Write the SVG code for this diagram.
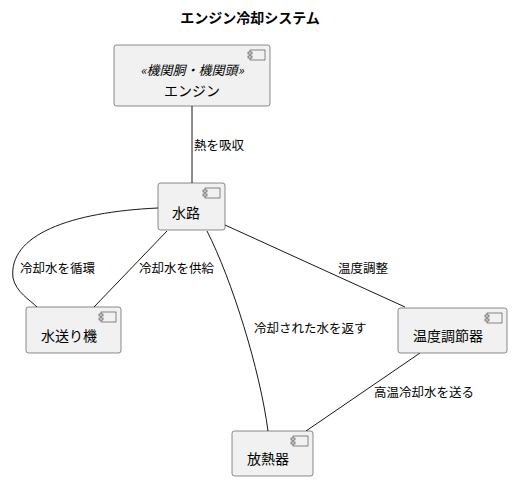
<svg xmlns="http://www.w3.org/2000/svg" width="512" height="481" viewBox="0 0 512 481">
<defs>
<style>
text{font-family:"Noto Sans CJK JP","Noto Sans",sans-serif;fill:#000}
.title{font-size:14px;font-weight:bold}
.node{font-size:14px}
.stereo{font-size:13px;font-style:italic}
.lbl{font-size:12.5px}
.box{fill:#F1F1F1;stroke:#181818;stroke-width:0.5}
.ic{fill:#F1F1F1;stroke:#181818;stroke-width:0.5}
.edge{fill:none;stroke:#181818;stroke-width:1}
</style>
<g id="icon">
<rect class="ic" x="0" y="0" width="15" height="10"/>
<rect class="ic" x="-2" y="2" width="4" height="2"/>
<rect class="ic" x="-2" y="6" width="4" height="2"/>
</g>
</defs>
<rect width="512" height="481" fill="#fff"/>
<text class="title" x="250" y="23" text-anchor="middle">エンジン冷却システム</text>
<g id="connectors">
<path class="edge" d="M192,106 L192,183"/>
<text class="lbl" x="194" y="150">熱を吸収</text>
<path class="edge" d="M158,208 C70,212 8,235 13,278 C16,292 30,300 37,307"/>
<text class="lbl" x="20" y="273">冷却水を循環</text>
<path class="edge" d="M167,231 L94,307"/>
<text class="lbl" x="139" y="273">冷却水を供給</text>
<path class="edge" d="M207,231 C232,280 260,370 268,431"/>
<text class="lbl" x="254" y="333">冷却された水を返す</text>
<path class="edge" d="M225,225 L405,307"/>
<text class="lbl" x="338" y="273">温度調整</text>
<path class="edge" d="M420,353 L306,431"/>
<text class="lbl" x="374" y="397">高温冷却水を送る</text>
</g>
<g id="engine">
<rect class="box" x="114" y="45" width="156" height="61" rx="2.5"/>
<use href="#icon" x="250" y="50"/>
<text class="stereo" x="192" y="75" text-anchor="middle">«機関胴・機関頭»</text>
<text class="node" x="192" y="96" text-anchor="middle">エンジン</text>
</g>
<g id="suiro">
<rect class="box" x="158" y="183" width="67" height="47" rx="2.5"/>
<use href="#icon" x="205" y="188"/>
<text class="node" x="186" y="218" text-anchor="middle">水路</text>
</g>
<g id="pump">
<rect class="box" x="26" y="307" width="95" height="46" rx="2.5"/>
<use href="#icon" x="101" y="312"/>
<text class="node" x="69" y="341" text-anchor="middle">水送り機</text>
</g>
<g id="thermostat">
<rect class="box" x="398" y="308" width="109" height="45" rx="2.5"/>
<use href="#icon" x="487" y="313"/>
<text class="node" x="448" y="341" text-anchor="middle">温度調節器</text>
</g>
<g id="radiator">
<rect class="box" x="232" y="431" width="81" height="45" rx="2.5"/>
<use href="#icon" x="293" y="436"/>
<text class="node" x="268" y="464" text-anchor="middle">放熱器</text>
</g>
</svg>
